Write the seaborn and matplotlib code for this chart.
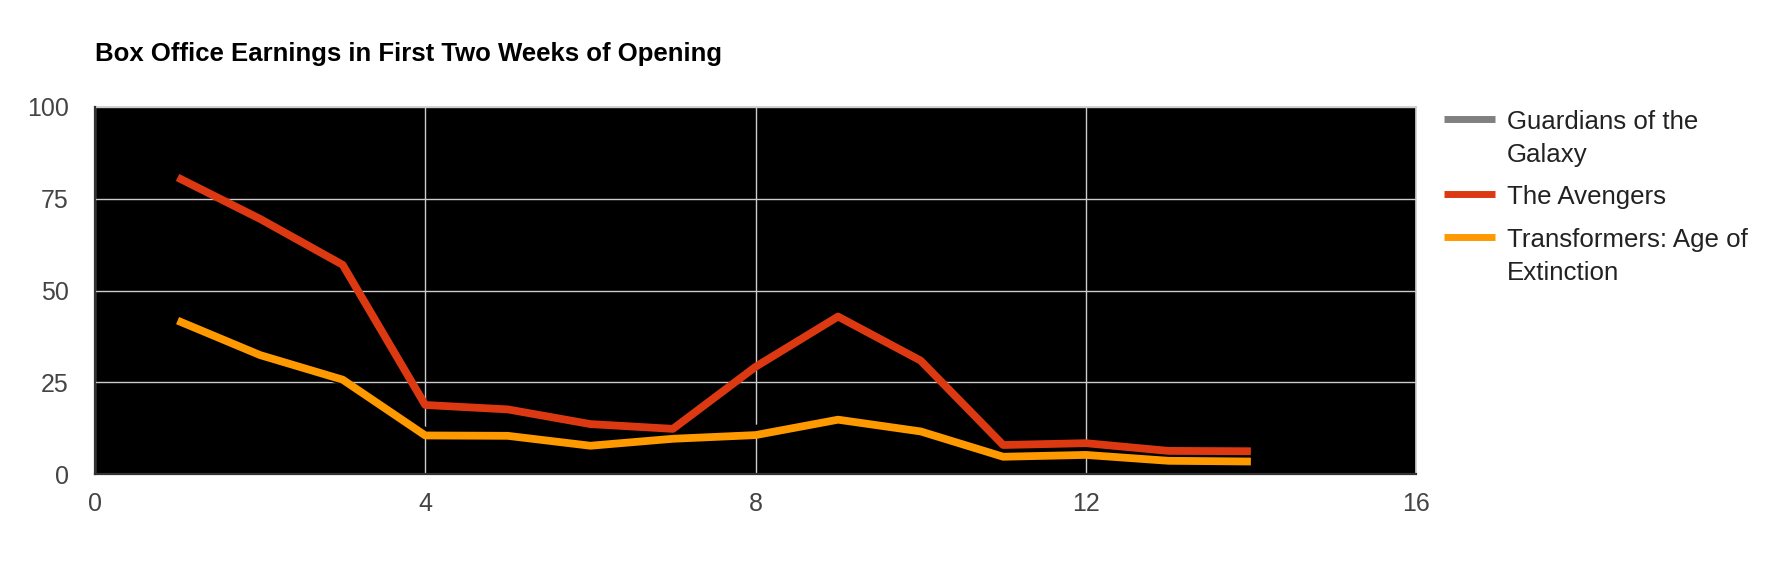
import pandas as pd
import matplotlib.pyplot as plt
import seaborn as sns
from matplotlib.lines import Line2D

days = list(range(1, 15))
guardians = [37.8, 30.9, 25.4, 11.7, 11.9, 8.8, 7.6, 12.3, 16.9, 12.8, 5.3, 6.6, 4.8, 4.2]
avengers = [80.8, 69.5, 57.0, 18.8, 17.6, 13.6, 12.3, 29.2, 42.9, 30.9, 7.9, 8.4, 6.3, 6.2]
transformers = [41.8, 32.4, 25.7, 10.5, 10.4, 7.7, 9.6, 10.6, 14.8, 11.6, 4.7, 5.2, 3.6, 3.4]

series = ["Guardians of the Galaxy", "The Avengers", "Transformers: Age of Extinction"]
legend_labels = ["Guardians of the\nGalaxy", "The Avengers", "Transformers: Age of\nExtinction"]
line_colors = ["#000000", "#dc3912", "#ff9900"]
legend_colors = ["#808080", "#dc3912", "#ff9900"]
x_ticks = [0, 4, 8, 12, 16]
y_ticks = [0, 25, 50, 75, 100]

df = pd.DataFrame({"Day": days * 3,
                   "Earnings": guardians + avengers + transformers,
                   "Movie": [s for s in series for _ in days]})

sns.set_theme(style="white")
plt.rcParams["font.family"] = ["Liberation Sans", "DejaVu Sans"]

W, H = 1788, 586
fig = plt.figure(figsize=(W / 100, H / 100), dpi=100)
ax = fig.add_axes([95 / W, 1 - 474 / H, 1321 / W, 367 / H])
ax.set_facecolor("black")

sns.lineplot(data=df, x="Day", y="Earnings", hue="Movie", hue_order=series,
             palette=line_colors, linewidth=5.6, legend=False, ax=ax,
             solid_capstyle="butt")

ax.set_xlim(0, 16)
ax.set_ylim(0, 100)
ax.set_xticks(x_ticks)
ax.set_yticks(y_ticks)
ax.set_xlabel("")
ax.set_ylabel("")
ax.grid(True, color="#cccccc", linewidth=1)
ax.set_axisbelow(True)
ax.tick_params(axis="both", length=0, labelsize=18, labelcolor="#444444")
ax.tick_params(axis="x", pad=13)
ax.tick_params(axis="y", pad=19)
for side in ["left", "bottom"]:
    ax.spines[side].set_color("#333333")
    ax.spines[side].set_linewidth(1.6)
    ax.spines[side].set_zorder(5)
for side in ["top", "right"]:
    ax.spines[side].set_color("#cccccc")
    ax.spines[side].set_linewidth(1.2)

fig.text(95 / W, 1 - 61 / H, "Box Office Earnings in First Two Weeks of Opening",
         fontsize=18.5, fontweight="bold", color="black", va="baseline", ha="left")

# legend: handle sits on the first text line; y values are the last-line baselines
handle_y = [119, 194, 237]
last_baselines = [162, 204, 280]
for lab, col, yh, yb in zip(legend_labels, legend_colors, handle_y, last_baselines):
    fig.add_artist(Line2D([1444 / W, 1495 / W], [1 - yh / H, 1 - yh / H],
                          color=col, linewidth=5, solid_capstyle="butt",
                          transform=fig.transFigure))
    fig.text(1507 / W, 1 - yb / H, lab, fontsize=18.6, color="#222222",
             va="baseline", ha="left", linespacing=1.46)

fig.savefig("out.png", dpi=100)
